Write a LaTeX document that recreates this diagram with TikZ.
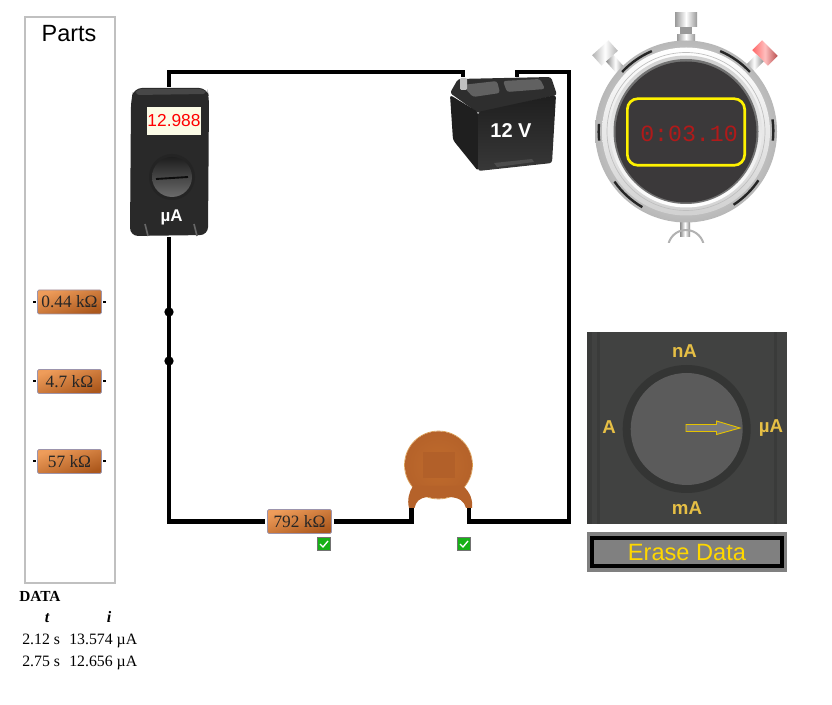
\documentclass[tikz,border=0pt]{standalone}
\usepackage{fontspec}
\setmainfont{Liberation Sans}
\newfontfamily\lserif{Liberation Serif}
\newfontfamily\lmono{Liberation Mono}
\usetikzlibrary{shapes.geometric}
\definecolor{partgray}{HTML}{C0C0C0}
\definecolor{resL}{HTML}{EE9C5A}
\definecolor{resR}{HTML}{AC581C}
\definecolor{resEdge}{HTML}{9C94AC}
\definecolor{gold}{HTML}{E6BF45}
\definecolor{btnGold}{HTML}{FFD700}
\definecolor{capMid}{HTML}{C06C2C}
\definecolor{capOrange}{HTML}{B5622A}
\definecolor{capLight}{HTML}{DDA050}
\definecolor{capPatch}{HTML}{B26029}
\definecolor{panel}{HTML}{414241}
\definecolor{panelDark}{HTML}{3A3B3A}
\definecolor{knobRing}{HTML}{343534}
\definecolor{knob}{HTML}{5B5B5B}
\definecolor{watchDark}{HTML}{3B393A}
\definecolor{checkGreen}{HTML}{17B117}
\definecolor{dispCream}{HTML}{FBFBE6}
\definecolor{timerRed}{HTML}{B01A1A}
\tikzset{
  x=0.75pt,y=-0.75pt,
  wire/.style={draw=black,line width=3.2pt},
  lead/.style={draw=black,line width=1.5pt},
  resistor/.style={left color=resL,right color=resR,shading angle=20,draw=resEdge,line width=0.5pt,
    rounded corners=1pt,minimum width=48pt,minimum height=18pt,inner sep=0pt,
    font=\lserif\fontsize{13}{13}\selectfont,text=black!85},
  checkbox/.style={fill=checkGreen,draw=black!55,line width=0.6pt,minimum size=9.5pt,inner sep=0pt},
  tick/.style={draw=white,line width=1pt},
  junction/.style={circle,fill=black,minimum size=7pt,inner sep=0pt},
  datatext/.style={font=\lserif\fontsize{11.85}{12}\selectfont,anchor=base west,inner sep=0pt},
  dialtext/.style={font=\bfseries\fontsize{14}{14}\selectfont,text=gold,inner sep=0pt},
  knurl/.style={draw=black!85,line width=1.8pt},
}
\begin{document}
\begin{tikzpicture}
\useasboundingbox (0,0) rectangle (832,705);
\fill[white] (0,0) rectangle (832,705);

% terminals and named places
\node[inner sep=0pt,minimum width=58.5pt,minimum height=112.5pt] (meter) at (169,162) {};
\coordinate (batL) at (463,77);
\coordinate (batR) at (517,77);
\coordinate (capL) at (411.5,508);
\coordinate (capLb) at (411.5,524);
\coordinate (capR) at (469,508);
\coordinate (capRb) at (469,524);
\coordinate (cornerBR) at (569,521.5);
\coordinate (cornerTR) at (569,72);
\coordinate (topL) at (463,72);
\coordinate (topR) at (517,72);
\node[junction] (j1) at (169,312) {};
\node[junction] (j2) at (169,361) {};
\node[resistor] (r792) at (299.5,521.5) {792 kΩ};

% wires
\draw[wire] (meter.north) |- (topL) -- (batL);
\draw[wire] (meter.south) -- (j1.center) -- (j2.center) |- ([xshift=-1.5]r792.west);
\draw[wire] ([xshift=1.5]r792.east) -- (capLb |- r792.east);
\draw[wire] (capL) -- (capLb);
\draw[wire] (capR) -- (capRb);
\draw[wire] (capR |- cornerBR) -- (cornerBR) -- (cornerTR) -- (topR) -- (batR);

% parts box
\node[draw=partgray,line width=1.5pt,minimum width=67.5pt,minimum height=424.5pt,inner sep=0pt] (partsbox) at (69.5,300) {};
\node[font=\fontsize{17.6}{18}\selectfont,inner sep=0pt] (partstitle) at (69,34) {Parts};
\node[resistor] (r1) at (69.5,302) {0.44 kΩ};
\node[resistor] (r2) at (69.5,381.5) {4.7 kΩ};
\node[resistor] (r3) at (69.5,461.5) {57 kΩ};
\foreach \r in {r1,r2,r3}{
  \draw[lead] ([xshift=-1]\r.west) -- ++(-3,0);
  \draw[lead] ([xshift=1]\r.east) -- ++(3,0);
}

% ammeter
\fill[black!84,rounded corners=6pt] (134,88) -- (207,88) -- (209,97) -- (208,235) -- (130,236) -- (131,100) -- cycle;
\fill[black!72,rounded corners=3pt] (137,89) -- (204,89) -- (207,94) -- (135,95) -- cycle;
\fill[black!86] (172,177) circle[radius=23];
\shade[top color=black!88,bottom color=black!58] (172,177) circle[radius=20];
\draw[black!95,line width=1.4pt] (156,179) -- (188,177);
\node[fill=dispCream,minimum width=40.5pt,minimum height=21pt,inner sep=0pt,text=red,font=\fontsize{13}{13}\selectfont] (mdisp) at (174,121) {12.988};
\node[text=white,font=\bfseries\fontsize{12.7}{13}\selectfont,inner sep=0pt] (mlabel) at (171.5,217) {µA};
\draw[black!60,line width=1.2pt] (145,224) -- (148,236);
\draw[black!60,line width=1.2pt] (194,224) -- (197,236);

% battery
\fill[black!82,rounded corners=2pt] (450,93) -- (458,79) -- (551,77) -- (557,95) -- (478,113) -- cycle;
\fill[black!88,rounded corners=2pt] (450,95) -- (453,140) -- (478,171) -- (478,112) -- cycle;
\shade[top color=black!88,bottom color=black!78,rounded corners=2pt] (478,112) -- (556,95) -- (552,163) -- (478,171) -- cycle;
\fill[black!62,rounded corners=2pt] (462,85) -- (497,81) -- (500,93) -- (473,97) -- cycle;
\fill[black!62,rounded corners=2pt] (503,81) -- (540,79) -- (545,89) -- (507,92) -- cycle;
\fill[black!25,rounded corners=1pt] (460,78) rectangle (467,90);
\fill[black!70] (494,163) -- (532,159) -- (534,162) -- (497,167) -- cycle;
\node[text=white,font=\bfseries\fontsize{15}{15}\selectfont,inner sep=0pt] (batlabel) at (511,131) {12 V};

% stopwatch
\shade[left color=black!40,right color=black!40,middle color=white] (675,13) rectangle (697,27);
\fill[black!40] (680,27) rectangle (692,36);
\shade[left color=black!40,right color=black!40,middle color=white] (677,35) rectangle (695,43);
\begin{scope}[shift={(605,53)},rotate=42]
  \shade[left color=black!30,right color=black!30,middle color=white] (-11,-7) rectangle (11,7);
  \shade[left color=black!45,right color=black!45,middle color=white] (-5,7) rectangle (5,24);
\end{scope}
\begin{scope}[shift={(765,53)},rotate=-45]
  \shade[left color=red!60!white,right color=red!60!black!70,middle color=red!25!white] (-11,-7) rectangle (11,7);
  \shade[left color=black!45,right color=black!45,middle color=white] (-5,7) rectangle (5,24);
\end{scope}
\shade[left color=black!45,right color=black!45,middle color=white] (680,220) rectangle (690,237);
\begin{scope}
  \clip (660,230) rectangle (710,243);
  \draw[black!30,line width=1.5pt] (686,248) circle[radius=18];
\end{scope}
\shade[inner color=white,outer color=black!28] (686,131.5) circle[radius=91];
\foreach \a/\b in {113/137,43/67,215/240,303/326,175/186,-6/8}{
  \draw[knurl] ([shift={(686,131.5)}]\a:65.5pt) arc[start angle=\a,end angle=\b,radius=65.5pt];
}
\shade[top color=white,bottom color=black!18] (686,131.5) circle[radius=84];
\draw[black!25,line width=0.5pt] (686,131.5) circle[radius=79];
\shade[top color=black!18,bottom color=white] (686,131.5) circle[radius=76];
\fill[black!55] (686,131.5) circle[radius=72.5];
\fill[watchDark] (686,132) circle[radius=70.5];
\node[draw=yellow,fill=watchDark,line width=2pt,rounded corners=8pt,minimum width=88pt,minimum height=50pt,inner sep=0pt] (display) at (686,132) {};
\node[text=timerRed,font=\lmono\fontsize{17.4}{17.4}\selectfont,inner sep=0pt] (timer) at (689,134) {0:03.10};

% selector panel
\node[fill=panel,minimum width=150pt,minimum height=144pt,inner sep=0pt] (panelbox) at (687,428) {};
\fill[panelDark] (587,332) rectangle (592,524);
\fill[panelDark] (597,332) rectangle (600,524);
\fill[panelDark] (774,332) rectangle (777,524);
\node[circle,fill=knobRing,minimum size=96pt,inner sep=0pt] (knobring) at (686.7,429) {};
\node[circle,fill=knob,minimum size=84pt,inner sep=0pt] (knobface) at (686.7,429) {};
\draw[btnGold!90!black,fill=knob!80!white,line width=0.7pt] (686,424.5) -- (716.5,424.5) -- (716.5,421) -- (740,428) -- (716.5,434.5) -- (716.5,431.5) -- (686,431.5) -- cycle;
\node[dialtext] (nA) at (684.5,351) {nA};
\node[dialtext] (mA) at (687,508) {mA};
\node[dialtext] (Aamp) at (609,427) {A};
\node[dialtext] (uA) at (771,428) {µA};

% erase button
\node[fill=black!50,minimum width=150pt,minimum height=30pt,inner sep=0pt] (eraseouter) at (687,552) {};
\node[fill=black!50,draw=black,line width=3pt,minimum width=143pt,minimum height=21.5pt,inner sep=0pt,text=btnGold,font=\fontsize{17.7}{18}\selectfont] (erase) at (687,552) {Erase Data};

% capacitor
\draw[capLight,line width=0.5pt] (438.5,465) circle[radius=34];
\shade[inner color=capMid,outer color=capOrange] (438.5,465) circle[radius=33.6];
\fill[capOrange] (409,508) .. controls (407,500) and (409,492) .. (413,486)
  -- (463,486)
  .. controls (470,492) and (473,500) .. (472,508)
  -- (466,508) .. controls (464,501) and (460,498) .. (450,497)
  -- (427,497)
  .. controls (420,498) and (416,501) .. (414.5,508) -- cycle;
\fill[capPatch] (423,452) rectangle (455,478);

% status boxes
\node[checkbox] (c1) at (324,544) {};
\node[checkbox] (c2) at (464,544) {};
\foreach \c in {c1,c2}{
  \draw[tick] ([shift={(-4,0)}]\c.center) -- ([shift={(-1,3)}]\c.center) -- ([shift={(4,-3)}]\c.center);
}

% data table
\node[font=\lserif\bfseries\fontsize{11.5}{12}\selectfont,anchor=base west,inner sep=0pt] (dtitle) at (19,601.5) {DATA};
\node[font=\lserif\bfseries\itshape\fontsize{12}{12}\selectfont,anchor=base,inner sep=0pt] (dt) at (47,622.5) {t};
\node[font=\lserif\bfseries\itshape\fontsize{12}{12}\selectfont,anchor=base,inner sep=0pt] (di) at (109,622.5) {i};
\node[datatext] (t1) at (22,644) {2.12 s};
\node[datatext] (i1) at (69,644) {13.574 µA};
\node[datatext] (t2) at (22,666.5) {2.75 s};
\node[datatext] (i2) at (69,666.5) {12.656 µA};
\end{tikzpicture}
\end{document}
